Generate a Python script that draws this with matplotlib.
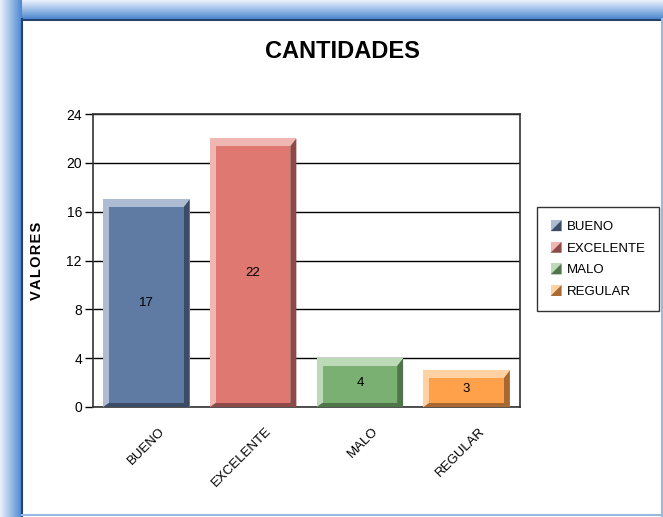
import numpy as np
import matplotlib
matplotlib.use('Agg')
import matplotlib.pyplot as plt
from matplotlib.patches import Rectangle, Polygon
from matplotlib.legend_handler import HandlerBase
from matplotlib.transforms import ScaledTranslation

plt.rcParams['font.family'] = ['Liberation Sans', 'DejaVu Sans']

# datos
categorias = ['BUENO', 'EXCELENTE', 'MALO', 'REGULAR']
valores = [17, 22, 4, 3]
y_ticks = [0, 4, 8, 12, 16, 20, 24]

# colores (cara, claro, oscuro)
cara = ['#5f7aa3', '#e07872', '#7ab173', '#ffa04a']
claro = ['#aebcd3', '#f0b6b1', '#bcdab7', '#ffd1a3']
oscuro = ['#3c4b66', '#8c4b48', '#50754b', '#a8682f']

W, H = 663, 517
fig = plt.figure(figsize=(W / 100, H / 100), dpi=100)

# marco azul de fondo
bg = fig.add_axes([0, 0, 1, 1])
bg.axis('off')
grad = np.linspace(0, 1, 64)
c0 = np.array([0.92, 0.95, 0.99])
c1 = np.array([0.30, 0.53, 0.82])
top = (c0[None, :] * (1 - grad[:, None]) + c1[None, :] * grad[:, None])[:, None, :]
bg.imshow(top, extent=(0, W, 19, 0), aspect='auto', zorder=1)
left = np.transpose(top, (1, 0, 2))
bg.imshow(left, extent=(0, 22, H, 0), aspect='auto', zorder=1)
bg.add_patch(Rectangle((22, 19), W - 23, H - 21, facecolor='white',
                       edgecolor='none', zorder=2))
bg.plot([22, W], [19.5, 19.5], color='#24446f', lw=1.5, zorder=3)
bg.plot([21.5, 21.5], [19, H], color='#24446f', lw=1.5, zorder=3)
bg.plot([W - 1.5, W - 1.5], [19, H], color='#9ab8e0', lw=1.5, zorder=3)
bg.plot([22, W], [H - 2, H - 2], color='#9ab8e0', lw=1.5, zorder=3)
bg.set_xlim(0, W)
bg.set_ylim(H, 0)

fig.text(342 / W, 1 - 52 / H, 'CANTIDADES', ha='center', va='center',
         fontsize=17, fontweight='bold')

ax = fig.add_axes([93 / W, 1 - 407 / H, 427 / W, 293 / H])
ax.set_xlim(-0.5, len(categorias) - 0.5)
ax.set_ylim(0, 24)
ax.set_yticks(y_ticks)
ax.set_yticklabels([str(t) for t in y_ticks], fontsize=10)
ax.set_xticks(range(len(categorias)))
ax.set_xticklabels(categorias, rotation=45, ha='right', rotation_mode='anchor',
                   fontsize=9.5)
ax.tick_params(axis='x', length=0, pad=13)
ax.tick_params(axis='y', length=6, width=1, pad=2)
desplaz = ScaledTranslation(12 / 100, 0, fig.dpi_scale_trans)
for lab in ax.get_xticklabels():
    lab.set_transform(lab.get_transform() + desplaz)
ax.yaxis.grid(True, color='black', lw=1)
ax.set_axisbelow(True)
for s in ax.spines.values():
    s.set_linewidth(1.2)
    s.set_color('#333333')
ax.set_ylabel('\u200a'.join('VALORES'), fontsize=10.5,
              fontweight='bold', labelpad=16)

# biseles en unidades de datos (6 px)
px_x = 6 / 427 * len(categorias)
px_y = 6 / 293 * 24
ancho = 0.81
for i, v in enumerate(valores):
    x0, x1 = i - ancho / 2, i + ancho / 2
    ax.add_patch(Rectangle((x0, 0), ancho, v, facecolor=claro[i], edgecolor='none', zorder=3))
    ax.add_patch(Polygon([(x1, v), (x1, 0), (x0, 0), (x0 + px_x, px_y * 0.7),
                          (x1 - px_x, px_y * 0.7), (x1 - px_x, v - px_y * 1.3)],
                         closed=True, facecolor=oscuro[i], edgecolor='none', zorder=3))
    ax.add_patch(Rectangle((x0 + px_x, px_y * 0.7), ancho - 2 * px_x, v - 2 * px_y,
                           facecolor=cara[i], edgecolor='none', zorder=4))
    ax.text(i, v / 2, str(v), ha='center', va='center', fontsize=9.5, zorder=5)


class HandlerBisel(HandlerBase):
    def create_artists(self, legend, orig_handle, xdescent, ydescent, width,
                       height, fontsize, trans):
        s = min(width, height)
        x0 = -xdescent + (width - s) / 2
        y0 = -ydescent
        a = Polygon([(x0, y0), (x0, y0 + s), (x0 + s, y0 + s)], closed=True,
                    facecolor=orig_handle[0], edgecolor='none', transform=trans)
        b = Polygon([(x0, y0), (x0 + s, y0 + s), (x0 + s, y0)], closed=True,
                    facecolor=orig_handle[1], edgecolor='none', transform=trans)
        return [a, b]


handles = [(claro[i], oscuro[i]) for i in range(len(categorias))]
leg = fig.legend(handles, categorias, handler_map={tuple: HandlerBisel()},
                 loc='upper left', bbox_to_anchor=(537 / W, 1 - 207 / H),
                 borderaxespad=0, frameon=True, fancybox=False, fontsize=9.5,
                 handlelength=0.9, handleheight=0.9, handletextpad=0.4,
                 labelspacing=0.65, borderpad=1.0)
leg.get_frame().set_edgecolor('black')
leg.get_frame().set_linewidth(1)

fig.savefig('out.png', dpi=100)
